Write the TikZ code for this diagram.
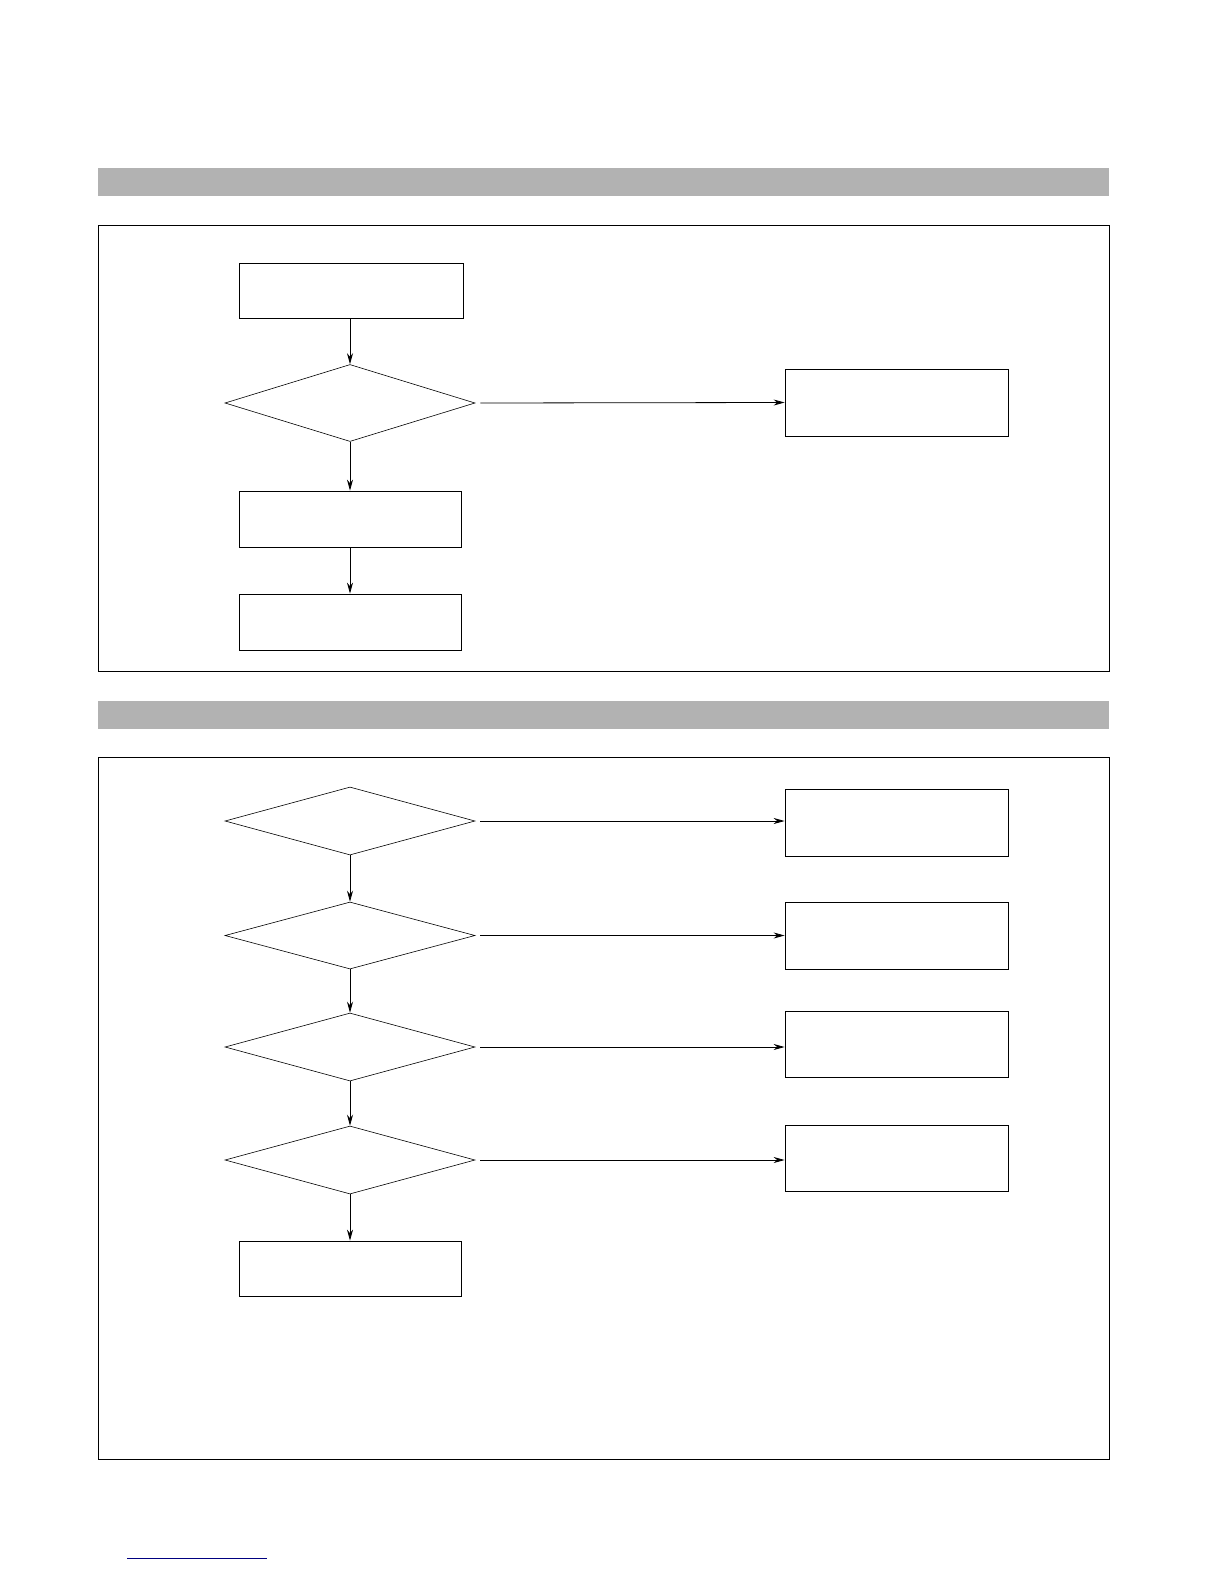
\documentclass[tikz,border=0pt]{standalone}
\usetikzlibrary{shapes.geometric,arrows.meta}
\begin{document}
\begin{tikzpicture}[x=1pt,y=-1pt,
  bx/.style={draw,line width=0.8pt,minimum width=222pt,minimum height=56pt,inner sep=0pt},
  rbx/.style={draw,line width=0.8pt,minimum width=223pt,minimum height=67pt,inner sep=0pt},
  dia/.style={draw,diamond,line width=0.6pt,minimum width=250pt,minimum height=68pt,inner sep=0pt},
  arr/.style={-{Stealth[length=11pt,width=6pt]},line width=0.8pt}]
\useasboundingbox (0,0) rectangle (1224,1584);
\fill[gray!60] (98,168) rectangle (1109,196);
\draw[line width=0.8pt] (98,225) rectangle (1109,671);
\fill[gray!60] (98,701) rectangle (1109,729);
\draw[line width=0.8pt] (98,757) rectangle (1109,1459);
% section 1
\node[bx,minimum width=224pt,minimum height=55pt] (a) at (351,290.5) {};
\node[dia,minimum height=77pt] (d1) at (350,403) {};
\node[rbx] (r1) at (896.5,402.5) {};
\node[bx] (b) at (350,519) {};
\node[bx] (c) at (350,622) {};
\draw[arr] (a.south -| d1.north) -- (d1.north);
\draw[arr] ([xshift=5pt]d1.east) -- (r1.west);
\draw[arr] (d1.south) -- (b.north);
\draw[arr] (b.south) -- (c.north);
% section 2
\node[dia] (e1) at (350,821) {};
\node[dia,minimum height=67pt] (e2) at (350,935.5) {};
\node[dia] (e3) at (350,1047) {};
\node[dia] (e4) at (350,1160) {};
\node[rbx] (s1) at (896.5,822.5) {};
\node[rbx] (s2) at (896.5,935.5) {};
\node[rbx,minimum height=66pt] (s3) at (896.5,1044) {};
\node[rbx,minimum height=66pt] (s4) at (896.5,1158) {};
\node[bx,minimum height=55pt] (f) at (350,1268.5) {};
\draw[arr] ([xshift=5pt]e1.east) -- (e1.east -| s1.west);
\draw[arr] ([xshift=5pt]e2.east) -- (s2.west);
\draw[arr] ([xshift=5pt]e3.east) -- (e3.east -| s3.west);
\draw[arr] ([xshift=5pt]e4.east) -- (e4.east -| s4.west);
\draw[arr] (e1.south) -- (e2.north);
\draw[arr] (e2.south) -- (e3.north);
\draw[arr] (e3.south) -- (e4.north);
\draw[arr] (e4.south) -- (f.north);
\coordinate (l1) at (127,1558); \coordinate (l2) at (267,1558);
\draw[blue!50!black,line width=1pt] (l1) -- (l2);
\end{tikzpicture}
\end{document}
